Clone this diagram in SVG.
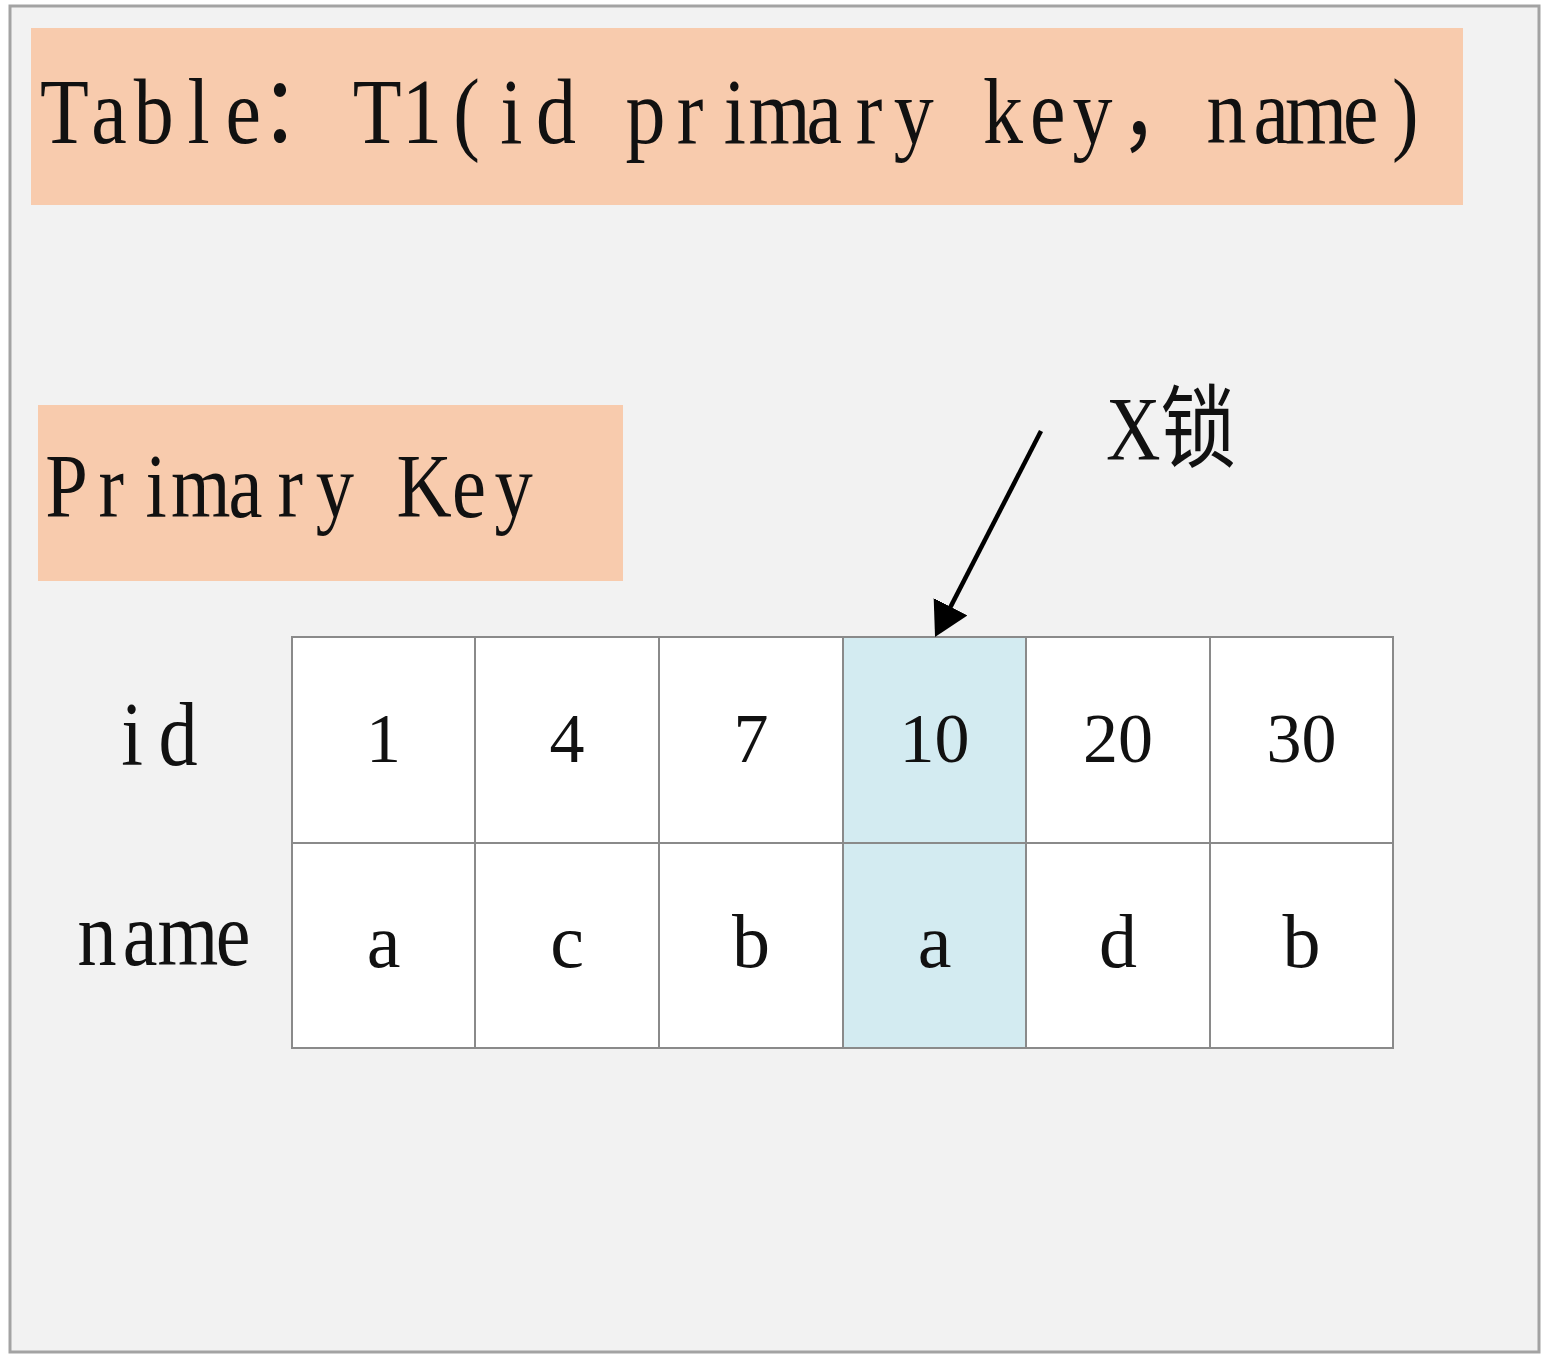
<svg xmlns="http://www.w3.org/2000/svg" width="1548" height="1362" viewBox="0 0 1548 1362">
<style>
.frame{fill:#F2F2F2;stroke:#A3A3A3;stroke-width:3}
.peach{fill:#F8CBAD}
.mono{font-family:'Liberation Serif','Noto Sans CJK SC',serif;fill:#111;text-anchor:middle}
.cell{fill:#FFFFFF;stroke:#8A8A8A;stroke-width:2}
.hl{fill:#D3EBF1}
.val{font-family:'Liberation Serif',serif;fill:#111;text-anchor:middle}
.arrow{stroke:#000;stroke-width:4.5;fill:none}
</style>
<defs>
<marker id="head" markerUnits="userSpaceOnUse" markerWidth="34" markerHeight="38" viewBox="0 0 34 38" refX="17" refY="19" orient="auto">
<path d="M0,0 L34,19 L0,38 Z" fill="#000"/>
</marker>
</defs>
<rect class="frame" x="10" y="6" width="1529" height="1346"/>
<g id="title">
<rect class="peach" x="31" y="28" width="1432" height="177"/>
<text class="mono" font-size="94" transform="translate(0,143) scale(0.85,1)" y="0" x="75.7 128.3 180.9 233.5 286.1 352.9 443.8 496.4 549.0 601.6 654.2 706.8 759.4 811.9 864.5 917.1 969.7 1022.3 1074.9 1127.5 1180.1 1232.7 1285.2 1364.1 1443.0 1495.6 1548.2 1600.8 1653.4">Table：T1(id primary key，name)</text>
</g>
<g id="primary-key">
<rect class="peach" x="38" y="405" width="585" height="176"/>
<text class="mono" font-size="90" transform="translate(0,517) scale(0.85,1)" y="0" x="78.4 131.0 183.6 236.2 288.8 341.4 393.9 446.5 499.1 551.7 604.3">Primary Key</text>
</g>
<g id="label-id">
<text class="mono" font-size="92" transform="translate(0,765) scale(0.85,1)" y="0" x="155.3 209.4">id</text>
</g>
<g id="label-name">
<text class="mono" font-size="92" transform="translate(0,965) scale(0.85,1)" y="0" x="114.1 164.7 221.2 274.1">name</text>
</g>
<g id="table">
<rect class="cell" x="292" y="637" width="183" height="206"/>
<rect class="cell" x="475" y="637" width="184" height="206"/>
<rect class="cell" x="659" y="637" width="184" height="206"/>
<rect class="cell hl" x="843" y="637" width="183" height="206"/>
<rect class="cell" x="1026" y="637" width="184" height="206"/>
<rect class="cell" x="1210" y="637" width="183" height="206"/>
<rect class="cell" x="292" y="843" width="183" height="205"/>
<rect class="cell" x="475" y="843" width="184" height="205"/>
<rect class="cell" x="659" y="843" width="184" height="205"/>
<rect class="cell hl" x="843" y="843" width="183" height="205"/>
<rect class="cell" x="1026" y="843" width="184" height="205"/>
<rect class="cell" x="1210" y="843" width="183" height="205"/>
<g font-size="70">
<text class="val" x="383.5" y="762">1</text>
<text class="val" x="567" y="762">4</text>
<text class="val" x="751" y="762">7</text>
<text class="val" x="934.5" y="762">10</text>
<text class="val" x="1118" y="762">20</text>
<text class="val" x="1301.5" y="762">30</text>
</g>
<g font-size="76">
<text class="val" x="383.5" y="967">a</text>
<text class="val" x="567" y="967">c</text>
<text class="val" x="751" y="967">b</text>
<text class="val" x="934.5" y="967">a</text>
<text class="val" x="1118" y="967">d</text>
<text class="val" x="1301.5" y="967">b</text>
</g>
</g>
<g id="xlock-label">
<text x="1106" y="460" font-family="'Liberation Serif','Noto Sans CJK SC',serif" font-size="90" fill="#111" textLength="130" lengthAdjust="spacingAndGlyphs">X锁</text>
</g>
<g id="connectors">
<line class="arrow" x1="1041" y1="431" x2="942.8" y2="621.9" marker-end="url(#head)"/>
</g>
</svg>
